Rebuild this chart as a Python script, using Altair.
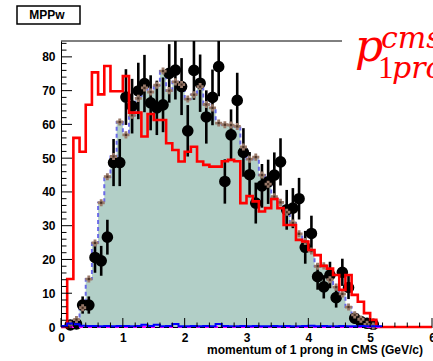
import altair as alt
import numpy as np
import pandas as pd

N_BINS = 60
BIN_W = 0.1

# red step histogram
red_counts = [0.0, 14.2, 56.0, 51.9, 65.8, 75.4, 68.9, 77.3, 69.8, 69.8,
              74.3, 63.5, 63.5, 56.4, 63.1, 61.3, 61.3, 54.4, 52.4, 49.0,
              51.9, 53.4, 49.0, 48.0, 47.5, 47.5, 49.1, 49.5, 49.1, 36.7,
              38.8, 37.2, 34.2, 35.2, 37.9, 35.2, 30.2, 30.2, 25.8, 25.3,
              22.8, 21.3, 18.1, 17.3, 15.4, 11.0, 15.4, 9.5, 7.5, 4.1,
              2.1, 0.0, 0.0, 0.0, 0.0, 0.0, 0.0, 0.0, 0.0, 0.0]

# filled MC histogram (with brown cross markers)
mc_counts = [0.0, 0.8, 2.2, 5.7, 14.2, 24.9, 36.8, 44.5, 50.5, 60.7,
             56.9, 62.7, 67.7, 70.8, 69.6, 71.6, 75.8, 70.0, 72.6, 71.8,
             67.5, 68.8, 71.2, 65.9, 64.9, 60.4, 59.9, 59.8, 59.4, 53.3,
             49.7, 50.3, 45.0, 42.3, 38.6, 36.9, 34.0, 30.8, 27.6, 25.3,
             22.5, 18.0, 18.1, 14.0, 11.8, 9.8, 5.9, 3.6, 2.3, 0.8,
             0.3, 0.0, 0.0, 0.0, 0.0, 0.0, 0.0, 0.0, 0.0, 0.0]

# black data points
data_counts = [None, 0.6, 0.9, 6.5, 6.5, 20.6, 19.6, 26.6, 48.7, 48.7,
               68.1, 65.4, 69.9, 72.1, 66.4, 64.9, 65.8, 75.1, 76.1, 71.2,
               58.1, 76.0, 72.2, 62.2, 68.0, 77.1, 43.1, 56.9, 67.1, 51.7,
               45.1, 36.7, 41.8, 43.0, 45.0, 48.9, 34.7, 35.2, 38.0, 23.6,
               27.7, 14.9, 11.9, 15.4, 8.7, 16.2, 11.7, 2.6, 1.6, 1.1,
               0.8, None, None, None, None, None, None, None, None, None]

# blue and magenta histograms near zero (bins 0..51)
blue_counts = [0.3, 1.0, 0.8, 0.4, 0.3, 0.3, 0.2, 0.3, 0.2, 0.3,
               0.3, 0.2, 0.3, 0.7, 0.3, 0.7, 0.2, 0.3, 0.9, 0.2,
               0.2, 0.3, 0.2, 0.3, 0.2, 0.9, 0.3, 0.2, 0.2, 0.3,
               0.2, 0.3, 0.2, 0.2, 0.3, 0.2, 0.3, 0.2, 0.2, 0.3,
               0.4, 0.2, 0.3, 0.2, 0.2, 0.3, 0.2, 0.2, 0.3, 0.2,
               0.2, 0.2]
magenta_counts = [0.0] * 52

x_tick_labels = [0, 1, 2, 3, 4, 5, 6]
y_tick_labels = [0, 10, 20, 30, 40, 50, 60, 70, 80]

edges = np.round(np.arange(N_BINS + 1) * BIN_W, 3)
centers = np.round((np.arange(N_BINS) + 0.5) * BIN_W, 3)


def step_df(counts):
    n = len(counts)
    return pd.DataFrame({"x": edges[: n + 1], "y": list(counts) + [counts[-1]]})


mc_step = step_df(mc_counts)
red_step = step_df(red_counts)
blue_step = step_df(blue_counts)
mag_step = step_df(magenta_counts)

mc_pts = pd.DataFrame({"x": centers, "y": mc_counts})
mc_pts = mc_pts[mc_pts["y"] > 0]

dd = pd.DataFrame({"x": centers, "y": data_counts}).dropna()
dd["lo"] = dd["y"] - np.sqrt(dd["y"])
dd["hi"] = dd["y"] + np.sqrt(dd["y"])

xs = alt.Scale(domain=[0, 6], nice=False, zero=False)
ys = alt.Scale(domain=[0, 84.7], nice=False, zero=True)

LF = "Liberation Sans"

x_axis = alt.Axis(values=x_tick_labels, format="d", title=None, grid=False,
                  ticks=False, tickSize=0, labelPadding=5, labelFont=LF,
                  labelFontWeight="bold", labelFontSize=12, labelColor="black",
                  labelFlush=False, labelOverlap=False, domainColor="black",
                  domainWidth=1)
y_axis = alt.Axis(values=y_tick_labels, format="d", title=None, grid=False,
                  ticks=False, tickSize=0, labelPadding=6, labelFont=LF,
                  labelFontWeight="bold", labelFontSize=12, labelColor="black",
                  labelFlush=False, labelOverlap=False, domainColor="black",
                  domainWidth=1)


def X(f):
    return alt.X(f, type="quantitative", scale=xs, axis=x_axis)


def Y(f):
    return alt.Y(f, type="quantitative", scale=ys, axis=y_axis)


fill = alt.Chart(mc_step).mark_area(interpolate="step-after", color="#b2cfc7").encode(
    x=X("x"), y=Y("y"))
outline = alt.Chart(mc_step).mark_line(
    interpolate="step-after", color="#6a6ae6", strokeDash=[4, 3], strokeWidth=2
).encode(x=X("x"), y=Y("y"))

data_err = alt.Chart(dd).mark_rule(color="black", strokeWidth=2.6, clip=True).encode(
    x=X("x"), y=Y("lo"), y2="hi")
data_dot = alt.Chart(dd).mark_point(shape="circle", filled=True, size=135,
                                    color="black", opacity=1).encode(x=X("x"), y=Y("y"))

mc_cross = alt.Chart(mc_pts).mark_point(shape="cross", filled=True, size=50,
                                        color="#9a7a6a", opacity=1).encode(x=X("x"), y=Y("y"))
mc_center = alt.Chart(mc_pts).mark_point(shape="square", filled=True, size=5,
                                         color="#4a3428", opacity=1).encode(x=X("x"), y=Y("y"))

red = alt.Chart(red_step).mark_line(interpolate="step-after", color="#ff0000",
                                    strokeWidth=2.6).encode(x=X("x"), y=Y("y"))
magenta = alt.Chart(mag_step).mark_line(interpolate="step-after", color="#ff00ff",
                                        strokeWidth=2.2, strokeDash=[4, 5]).encode(x=X("x"), y=Y("y"))
blue = alt.Chart(blue_step).mark_line(interpolate="step-after", color="#0000ff",
                                      strokeWidth=2).encode(x=X("x"), y=Y("y"))

# inward ticks
x_major = pd.DataFrame({"t": x_tick_labels})
x_minor = pd.DataFrame({"t": [round(v, 2) for v in np.arange(0, 6.01, 0.2) if abs(v - round(v)) > 1e-6]})
y_major = pd.DataFrame({"t": y_tick_labels})
y_minor = pd.DataFrame({"t": [v for v in range(0, 85, 2) if v % 10 != 0]})

PH = 286
xt1 = alt.Chart(x_major).mark_rule(color="black", strokeWidth=1).encode(
    x=X("t"), y=alt.value(PH), y2=alt.value(PH - 9))
xt2 = alt.Chart(x_minor).mark_rule(color="black", strokeWidth=1).encode(
    x=X("t"), y=alt.value(PH), y2=alt.value(PH - 4.5))
yt1 = alt.Chart(y_major).mark_rule(color="black", strokeWidth=1).encode(
    y=Y("t"), x=alt.value(0), x2=alt.value(11))
yt2 = alt.Chart(y_minor).mark_rule(color="black", strokeWidth=1).encode(
    y=Y("t"), x=alt.value(0), x2=alt.value(5.5))

one = pd.DataFrame({"a": [0]})
top_frame = alt.Chart(one).mark_rule(color="black", strokeWidth=1).encode(
    x=alt.value(0), x2=alt.value(281), y=alt.value(0))

title_box = alt.Chart(one).mark_rect(fill="white", stroke="black", strokeWidth=1.5).encode(
    x=alt.value(-44), x2=alt.value(19), y=alt.value(-35), y2=alt.value(-17))
title_txt = alt.Chart(one).mark_text(text="MPPw", font=LF, fontWeight="bold", fontSize=12,
                                     color="black", align="center", baseline="alphabetic").encode(
    x=alt.value(-14), y=alt.value(-22))

xlabel = alt.Chart(one).mark_text(text="momentum of 1 prong in CMS (GeV/c)", font=LF,
                                  fontWeight="bold", fontSize=12, color="black",
                                  align="left", baseline="alphabetic").encode(
    x=alt.value(146), y=alt.value(312.5))

SF = "DejaVu Serif"
p_main = alt.Chart(one).mark_text(text="p", font=SF, fontStyle="italic", fontSize=44,
                                  color="#ff0000", align="left", baseline="alphabetic").encode(
    x=alt.value(294), y=alt.value(20))
p_sup = alt.Chart(one).mark_text(text="cms", font=SF, fontStyle="italic", fontSize=30,
                                 color="#ff0000", align="left", baseline="alphabetic").encode(
    x=alt.value(320), y=alt.value(7))
p_sub1 = alt.Chart(one).mark_text(text="1", font="Liberation Serif", fontSize=31,
                                  color="#ff0000", align="left", baseline="alphabetic").encode(
    x=alt.value(317), y=alt.value(37))
p_sub2 = alt.Chart(one).mark_text(text="prong", font=SF, fontStyle="italic", fontSize=30,
                                  color="#ff0000", align="left", baseline="alphabetic").encode(
    x=alt.value(331), y=alt.value(37))

chart = alt.layer(
    fill, outline, data_err, data_dot, mc_cross, mc_center, red, magenta, blue,
    xt1, xt2, yt1, yt2, top_frame, title_box, title_txt, xlabel,
    p_main, p_sup, p_sub1, p_sub2,
).properties(
    width=371, height=PH,
    autosize=alt.AutoSizeParams(type="none"),
    padding={"left": 61, "top": 41, "right": 1, "bottom": 34},
    background="white",
).configure_view(strokeWidth=0)

chart.save("out.html", embed_options={"renderer": "svg", "actions": False})
